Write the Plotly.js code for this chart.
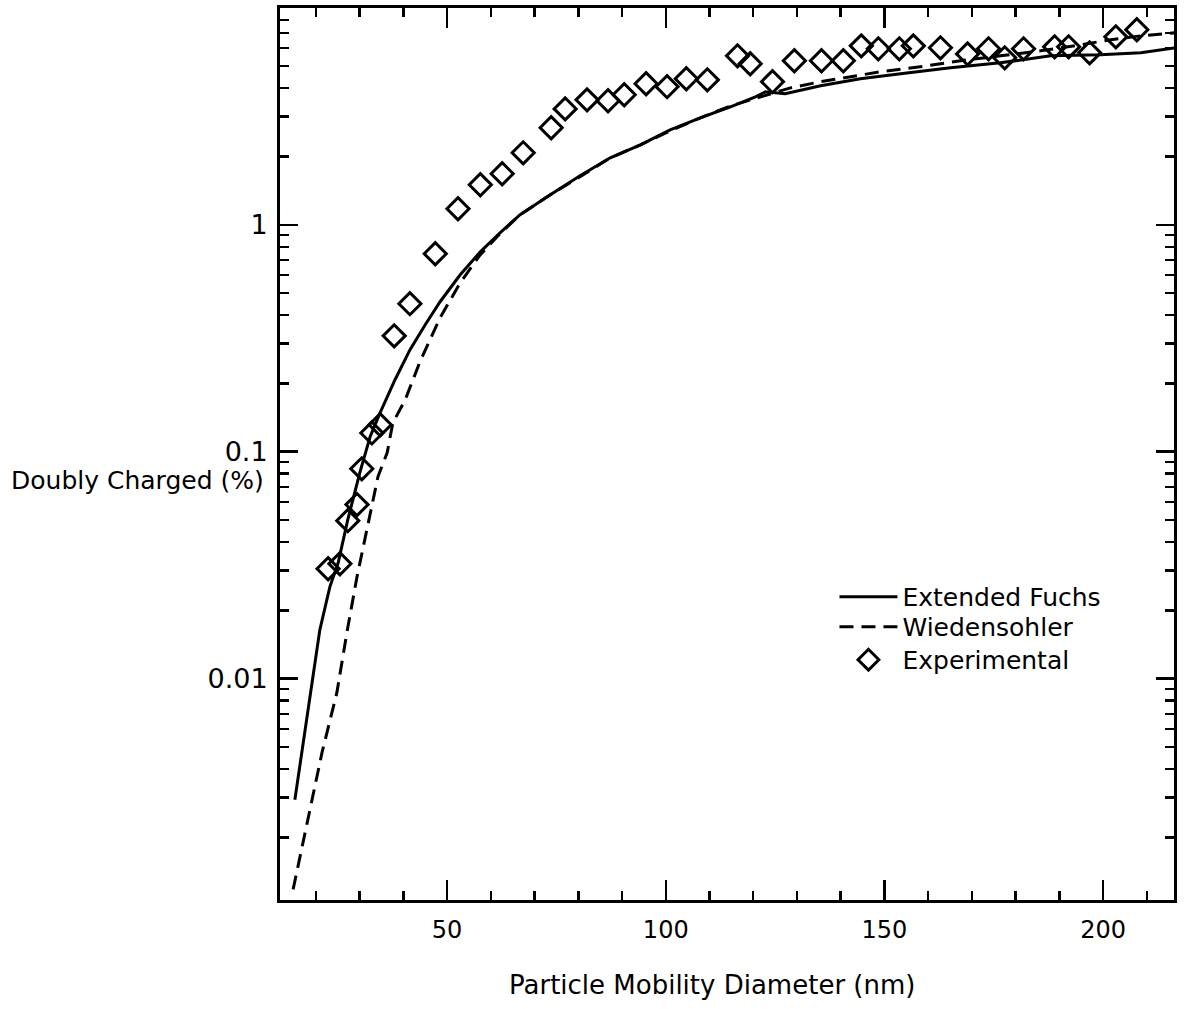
<!DOCTYPE html>
<html>
<head>
<meta charset="utf-8">
<script src="https://cdn.plot.ly/plotly-3.0.1.min.js"></script>
<style>
  html, body { margin: 0; padding: 0; background: #ffffff; }
  #chart { width: 1186px; height: 1009px; }
</style>
</head>
<body>
<div id="chart"></div>
<script>
// Doubly charged fraction (%) versus particle mobility diameter (nm)

// Extended Fuchs theory (solid line)
const fuchsDiameter = [15.2, 20.9, 23.2, 25.1, 27.3, 30.1, 32.4, 34.7, 38.1, 41.5, 45.0, 48.4,
  53.0, 57.6, 62.1, 66.7, 73.6, 80.4, 87.3, 94.2, 101.0, 107.9, 114.8, 120.5, 122.8, 127.3,
  135.4, 144.5, 153.7, 165.1, 176.5, 188.0, 199.4, 208.6, 216.4];
const fuchsCharged = [0.00293, 0.0164, 0.0254, 0.0324, 0.0502, 0.0816, 0.1164, 0.1486, 0.2076,
  0.281, 0.3626, 0.458, 0.602, 0.760, 0.922, 1.107, 1.356, 1.643, 1.973, 2.25, 2.62, 2.96,
  3.31, 3.66, 3.85, 3.78, 4.10, 4.40, 4.63, 4.92, 5.17, 5.55, 5.61, 5.72, 6.02];

// Wiedensohler approximation (dashed line)
const wiedDiameter = [14.8, 17.5, 21.4, 24.8, 27.1, 29.4, 31.2, 32.8, 34.2, 36.3, 37.6, 40.4,
  43.8, 48.4, 53.0, 57.6, 62.1, 66.7, 73.6, 80.4, 87.3, 94.2, 101.0, 107.9, 114.8, 121.7,
  128.5, 135.4, 142.2, 149.1, 158.2, 167.4, 176.5, 185.7, 194.9, 201.7, 208.6, 216.4];
const wiedCharged = [0.00118, 0.0021, 0.00472, 0.00868, 0.0160, 0.0281, 0.0410, 0.0573, 0.0776,
  0.099, 0.134, 0.169, 0.249, 0.389, 0.555, 0.738, 0.913, 1.107, 1.356, 1.63, 1.97, 2.25,
  2.59, 2.96, 3.34, 3.66, 4.01, 4.27, 4.49, 4.72, 4.97, 5.28, 5.55, 5.84, 6.21, 6.53, 6.80, 7.01];

// Measurements (open diamonds)
const expDiameter = [22.8, 25.5, 27.3, 29.4, 30.5, 32.8, 34.7, 37.9, 41.5, 47.3, 52.5, 57.6,
  62.6, 67.4, 73.8, 77.0, 82.0, 86.8, 90.5, 95.5, 100.3, 104.7, 109.5, 116.4, 119.3, 124.4,
  129.4, 135.6, 140.6, 144.7, 148.6, 153.4, 156.6, 162.8, 169.0, 173.8, 177.5, 181.8, 188.9,
  192.1, 196.9, 202.9, 207.7];
const expCharged = [0.0305, 0.0321, 0.0497, 0.0585, 0.0841, 0.121, 0.1315, 0.324, 0.449, 0.745,
  1.176, 1.50, 1.678, 2.075, 2.675, 3.24, 3.55, 3.52, 3.74, 4.18, 4.06, 4.40, 4.35, 5.55, 5.12,
  4.27, 5.28, 5.28, 5.28, 6.14, 5.96, 5.96, 6.14, 6.02, 5.66, 5.96, 5.44, 5.96, 6.08, 6.08,
  5.72, 6.73, 7.23];

// Axis labelling
const xTickVals = [50, 100, 150, 200];
const yTickVals = [0.01, 0.1, 1];
const yTickText = ['0.01', '0.1', '1'];

// minor log ticks: 2..9 within each decade
const yMinorVals = [];
for (let e = -3; e <= 0; e++) {
  for (let m = 2; m <= 9; m++) yMinorVals.push(m * Math.pow(10, e));
}

const FONT = 'DejaVu Sans, Verdana, sans-serif';

const traces = [
  {
    x: fuchsDiameter, y: fuchsCharged, name: 'Extended Fuchs',
    type: 'scatter', mode: 'lines', legend: 'legend',
    line: { color: '#000000', width: 3 }
  },
  {
    x: wiedDiameter, y: wiedCharged, name: 'Wiedensohler',
    type: 'scatter', mode: 'lines', legend: 'legend2',
    line: { color: '#000000', width: 3, dash: '14px,8px' }
  },
  {
    x: expDiameter, y: expCharged, name: 'Experimental',
    type: 'scatter', mode: 'markers', legend: 'legend3',
    marker: { symbol: 'diamond-open', size: 17, color: '#000000', line: { width: 3, color: '#000000' } }
  }
];

// one legend box per entry so the rows sit at their own heights
function legendRow(yPaper) {
  return {
    x: 0.6202, y: yPaper, xanchor: 'left', yanchor: 'middle',
    bgcolor: 'rgba(0,0,0,0)', borderwidth: 0,
    font: { family: FONT, size: 25, color: '#000000' },
    itemwidth: 58
  };
}

const layout = {
  width: 1186, height: 1009,
  margin: { l: 280, r: 12, t: 8, b: 109 },
  paper_bgcolor: '#ffffff', plot_bgcolor: '#ffffff',
  font: { family: FONT, size: 24, color: '#000000' },
  showlegend: true,
  legend: legendRow(0.3397),
  legend2: legendRow(0.3061),
  legend3: legendRow(0.2691),
  xaxis: {
    range: [11.8, 216.2],
    showgrid: false, zeroline: false,
    showline: true, linecolor: '#000000', linewidth: 3, mirror: 'ticks',
    ticks: 'inside', ticklen: 20, tickwidth: 2.5, tickcolor: '#000000',
    tickmode: 'array', tickvals: xTickVals,
    ticklabelstandoff: 6,
    tickfont: { family: FONT, size: 24, color: '#000000' },
    minor: { dtick: 10, tick0: 0, ticks: 'inside', ticklen: 9, tickwidth: 2.5, tickcolor: '#000000', showgrid: false }
  },
  yaxis: {
    type: 'log',
    range: [-2.975, 0.955],
    showgrid: false, zeroline: false,
    showline: true, linecolor: '#000000', linewidth: 3, mirror: 'ticks',
    ticks: 'inside', ticklen: 18, tickwidth: 2.5, tickcolor: '#000000',
    tickmode: 'array', tickvals: yTickVals, ticktext: yTickText,
    ticklabelstandoff: 4,
    tickfont: { family: FONT, size: 27, color: '#000000' },
    minor: { tickmode: 'array', tickvals: yMinorVals, ticks: 'inside', ticklen: 9, tickwidth: 2.5, tickcolor: '#000000', showgrid: false }
  },
  annotations: [
    {
      text: 'Doubly Charged (%)', xref: 'paper', yref: 'paper',
      x: 0, y: 0.4700, xanchor: 'right', yanchor: 'middle', xshift: -14,
      showarrow: false, font: { family: FONT, size: 25, color: '#000000' }
    },
    {
      text: 'Particle Mobility Diameter (nm)', xref: 'paper', yref: 'paper',
      x: 0.4832, y: -0.0953, xanchor: 'center', yanchor: 'middle',
      showarrow: false, font: { family: FONT, size: 26, color: '#000000' }
    }
  ]
};

Plotly.newPlot('chart', traces, layout, { displayModeBar: false, staticPlot: true });
</script>
</body>
</html>
